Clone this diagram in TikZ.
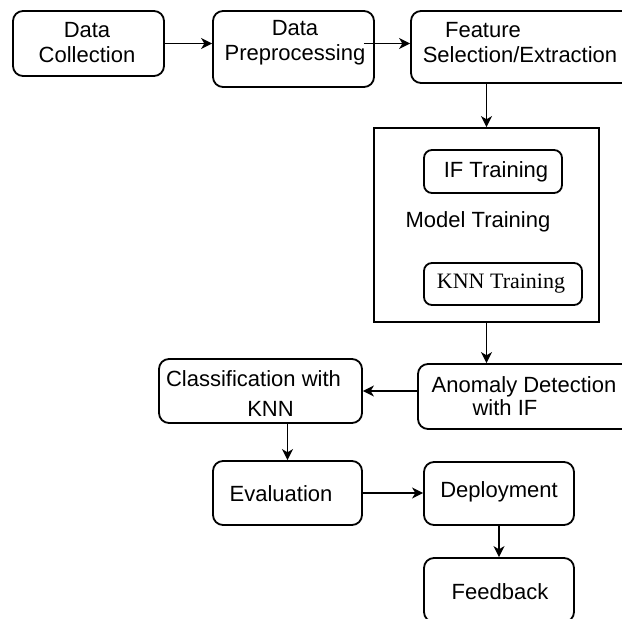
\documentclass[tikz,border=0pt]{standalone}
\usepackage{fontspec}
\setmainfont{Liberation Sans}
\newfontfamily\timesfont{Liberation Serif}
\usetikzlibrary{arrows.meta}
\begin{document}
\begin{tikzpicture}[x=0.5pt,y=-0.5pt,
  every node/.style={font=\fontsize{11pt}{12.5pt}\selectfont},
  box/.style={draw,line width=0.9pt,rounded corners=5pt,inner sep=0pt},
  frame/.style={draw,line width=0.9pt,sharp corners,inner sep=0pt},
  txt/.style={align=center,inner sep=0pt},
  arr/.style={-{Stealth[length=5.5pt,width=5.5pt,inset=1.6pt]},line width=0.85pt}]
\useasboundingbox (0,0) rectangle (622,619);
\clip (0,0) rectangle (622,619);
\fill[white] (0,0) rectangle (622,619);
\node[box,minimum width=75.5pt,minimum height=32.5pt] (dc) at (88.5,43.5) {};
\node[txt] (dc-t) at (87,42.5) {Data\\Collection};
\node[box,minimum width=80.5pt,minimum height=38pt] (dp) at (293.5,49) {};
\node[txt] (dp-t) at (295,42.5) {Data\\Preprocessing};
\node[box,minimum width=110.5pt,minimum height=36pt] (fs) at (521.5,47) {};
\node[txt] (fs-t) at (520,42.5) {Feature\hspace*{37pt}\\Selection/Extraction};
\node[frame,minimum width=112.5pt,minimum height=97pt] (mt) at (486.5,225) {};
\node[box,rounded corners=4pt,minimum width=69pt,minimum height=21.5pt] (ift) at (493,171.5) {};
\node[txt] (ift-t) at (496,172) {IF Training};
\node[txt] (mt-t) at (478,222) {Model Training};
\node[box,rounded corners=4pt,minimum width=79pt,minimum height=21pt] (knt) at (503,284) {};
\node[txt] (knt-t) at (501,284) {\timesfont KNN Training};
\node[box,minimum width=107pt,minimum height=32.5pt] (ad) at (525,396.5) {};
\node[txt] (ad-t) at (524,396.5) {Anomaly Detection\\[-1pt]with IF\hspace*{19pt}};
\node[box,minimum width=101.5pt,minimum height=32pt] (cl) at (260.5,391) {};
\node[txt] (cl-t) at (253.5,394) {Classification with\\[2.5pt]\hspace*{17pt}KNN};
\node[box,minimum width=74.5pt,minimum height=32pt] (ev) at (287.5,493) {};
\node[txt] (ev-t) at (281,494) {Evaluation};
\node[box,minimum width=75pt,minimum height=31.5pt] (dep) at (499,493.5) {};
\node[txt] (dep-t) at (499,492) {Deployment};
\node[box,minimum width=75pt,minimum height=32pt] (fb) at (499,590) {};
\node[txt] (fb-t) at (500,592) {Feedback};
\draw[arr] (dc.east) -- (dc.east -| dp.west);
\draw[arr] ([xshift=-5.5pt]dp.east |- dc.east) -- (dc.east -| fs.west);
\draw[arr] (mt.north |- fs.south) -- (mt.north);
\draw[arr] (mt.south) -- (mt.south |- ad.north);
\draw[arr] (ad.west |- cl.east) -- (cl.east);
\draw[arr] (ev.north |- cl.south) -- (ev.north);
\draw[arr] (ev.east) -- (ev.east -| dep.west);
\draw[arr] (dep.south) -- (fb.north);
\end{tikzpicture}
\end{document}
